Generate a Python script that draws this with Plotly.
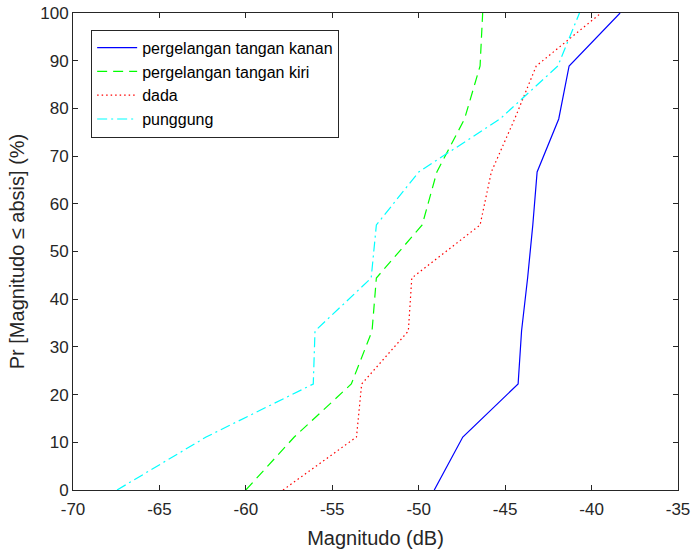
import plotly.graph_objects as go

# Empirical CDF levels (%)
prob = [0, 11.11, 22.22, 33.33, 44.44, 55.56, 66.67, 77.78, 88.89, 100]

# Magnitudes (dB)
kanan = [-49.1, -47.45, -44.25, -44.05, -43.7, -43.4, -43.15, -41.9, -41.3, -38.35]
kiri = [-60.0, -57.2, -53.9, -52.7, -52.45, -49.8, -48.95, -47.35, -46.45, -46.3]
dada = [-57.85, -53.6, -53.3, -50.6, -50.4, -46.45, -45.8, -44.45, -43.2, -39.45]
punggung = [-67.45, -62.3, -56.1, -56.0, -52.75, -52.45, -50.0, -45.3, -41.95, -40.7]

names = ["pergelangan tangan kanan", "pergelangan tangan kiri", "dada", "punggung"]
x_ticks = [-70, -65, -60, -55, -50, -45, -40, -35]
x_labels = ["-70", "-65", "-60", "-55", "-50", "-45", "-40", "-35"]
y_ticks = [0, 10, 20, 30, 40, 50, 60, 70, 80, 90, 100]
y_labels = ["0", "10", "20", "30", "40", "50", "60", "70", "80", "90", "100"]

series = [kanan, kiri, dada, punggung]
colors = ["#0000FF", "#00FF00", "#FF0000", "#00FFFF"]
dashes = ["solid", "10px,6px", "1.5px,3px", "10px,4px,2px,4px"]

FONT = "Liberation Sans, Arial, sans-serif"
AX = "#262626"

fig = go.Figure()
for xs, nm, c, d in zip(series, names, colors, dashes):
    fig.add_trace(go.Scatter(x=xs, y=prob, mode="lines", name=nm,
                             line=dict(color=c, width=1.2, dash=d)))

axis_common = dict(showline=True, linecolor=AX, linewidth=1, mirror="ticks",
                   ticks="inside", ticklen=5, tickcolor=AX, showgrid=False,
                   zeroline=False, automargin=False,
                   tickfont=dict(family=FONT, size=17, color=AX))

fig.update_layout(
    width=694, height=553,
    margin=dict(l=73, r=16, t=13, b=63),
    paper_bgcolor="white", plot_bgcolor="white",
    font=dict(family=FONT, color=AX),
    showlegend=True,
    legend=dict(x=0.03, y=0.965, xanchor="left", yanchor="top",
                bordercolor=AX, borderwidth=1, bgcolor="white",
                font=dict(family=FONT, size=16, color="#000000"),
                itemwidth=40, tracegroupgap=0),
    xaxis=dict(range=[-70, -35], tickvals=x_ticks, ticktext=x_labels,
               ticklabelstandoff=4,
               title=dict(text="Magnitudo (dB)", font=dict(family=FONT, size=20, color=AX), standoff=12),
               **axis_common),
    yaxis=dict(range=[0, 100], tickvals=y_ticks, ticktext=y_labels,
               title=dict(text="Pr [Magnitudo ≤ absis] (%)", font=dict(family=FONT, size=20, color=AX), standoff=10),
               **axis_common),
)

fig.write_html("out.html",
               config={"displayModeBar": False},
               post_script="document.body.style.margin='0';document.body.style.padding='0';")
